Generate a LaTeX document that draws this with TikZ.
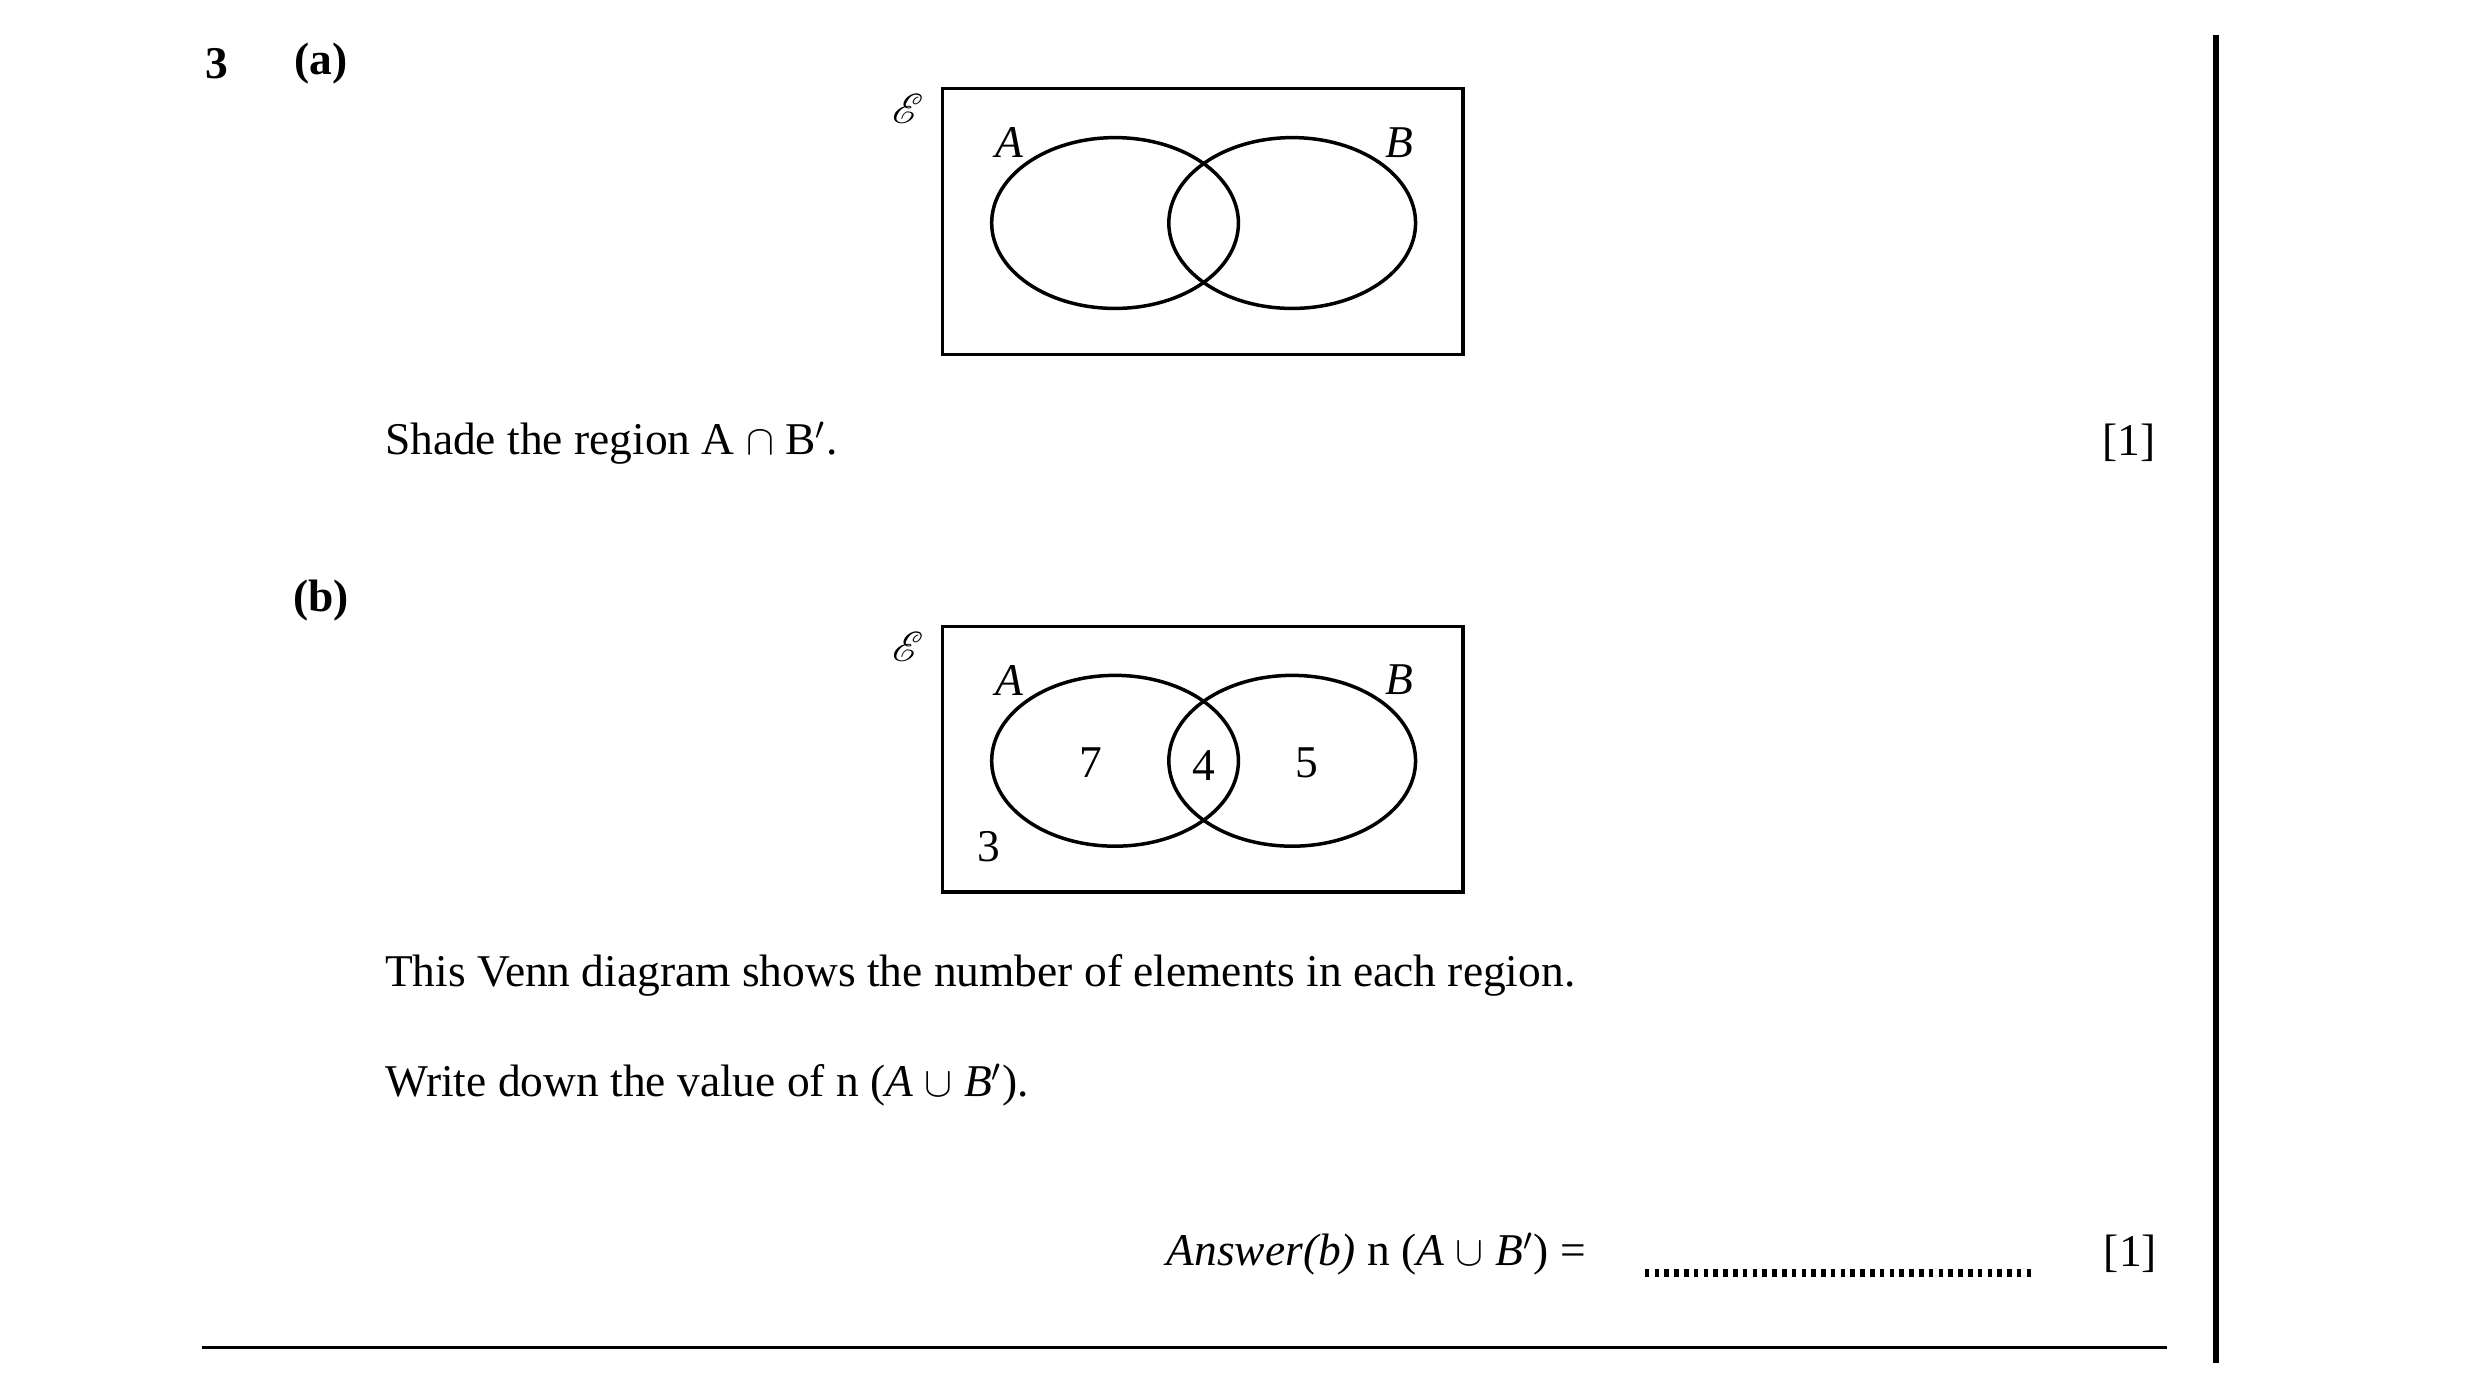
\documentclass[tikz,border=0pt]{standalone}
\usepackage{fontspec}
\setmainfont{Liberation Serif}
\usepackage{mathrsfs}
\usetikzlibrary{positioning}
\begin{document}
\begin{tikzpicture}[x=0.0159cm,y=-0.0159cm,
    txt/.style={font=\fontsize{13}{15}\selectfont,inner sep=0pt},
    ]
  \useasboundingbox (0,0) rectangle (1568,885);

  % part (a)
  \node[txt,font=\fontsize{13}{15}\selectfont\bfseries] (qnum) at (137,40) {3};
  \node[txt,font=\fontsize{13}{15}\selectfont\bfseries] (parta) at (203,40) {(a)};
  \draw[line width=1pt] (596,56) rectangle (925,224);
  \draw[line width=1pt] (705,141) ellipse [x radius=78,y radius=54];
  \draw[line width=1pt] (817,141) ellipse [x radius=78,y radius=54];
  \node[txt] (univa) at (574,69) {$\mathscr{E}$};
  \node[txt] (laba) at (638,90) {\textit{A}};
  \node[txt] (labb) at (885,90) {\textit{B}};
  \node[txt,anchor=west] (shade) at (243,280) {Shade the region A $\cap$ B$'$.};
  \node[txt] (marka) at (1346,280) {[1]};

  % part (b)
  \node[txt,font=\fontsize{13}{15}\selectfont\bfseries] (partb) at (203,380) {(b)};
  \draw[line width=1pt] (596,396) rectangle (925,564);
  \draw[line width=1pt] (705,481) ellipse [x radius=78,y radius=54];
  \draw[line width=1pt] (817,481) ellipse [x radius=78,y radius=54];
  \node[txt] (univb) at (574,409) {$\mathscr{E}$};
  \node[txt] (labab) at (638,430) {\textit{A}};
  \node[txt] (labbb) at (885,430) {\textit{B}};
  \node[txt] (onlya) at (690,482) {7};
  \node[txt] (both) at (761,484) {4};
  \node[txt] (onlyb) at (826,482) {5};
  \node[txt] (none) at (625,535) {3};
  \node[txt,anchor=west] (desc) at (243,617) {This Venn diagram shows the number of elements in each region.};
  \node[txt,anchor=west] (ask) at (243,686) {Write down the value of n (\textit{A} $\cup$ \textit{B}$'$).};
  \node[txt,anchor=east] (answer) at (1003,793) {\textit{Answer(b)} n (\textit{A} $\cup$ \textit{B}$'$) =};
  \draw[line width=2.2pt,dash pattern=on 1.3pt off 1.5pt] (1040,805) -- (1285,805);
  \node[txt] (markb) at (1347,793) {[1]};

  % page rules
  \draw[line width=0.8pt] (128,852) -- (1370,852);
  \draw[line width=1.5pt] (1401,22) -- (1401,862);
\end{tikzpicture}
\end{document}
